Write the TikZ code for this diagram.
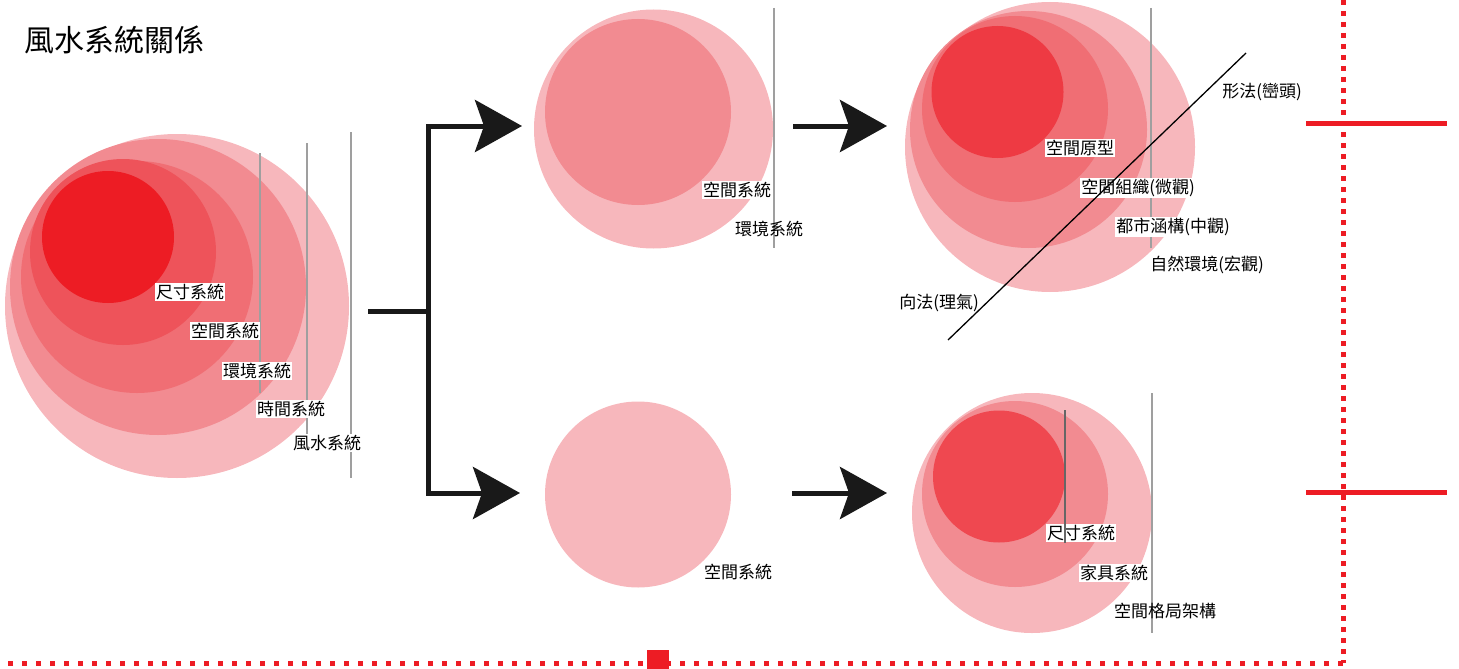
\documentclass[tikz,border=0pt]{standalone}
\usepackage{fontspec}
\usepackage{xcolor}
\usepackage{tikz}
\usetikzlibrary{arrows.meta}
\newfontfamily\cjk{Noto Sans CJK TC}

\definecolor{fsA}{HTML}{F7B7BC}
\definecolor{fsB}{HTML}{F28B91}
\definecolor{fsC}{HTML}{F06E74}
\definecolor{fsD}{HTML}{EE535A}
\definecolor{coreL}{HTML}{ED1C24}
\definecolor{coreT}{HTML}{EE3A43}
\definecolor{coreB}{HTML}{EF4850}
\definecolor{fsRed}{HTML}{ED1C24}

\tikzset{
  lbl/.style={font=\cjk\fontsize{17}{17}\selectfont, inner sep=1pt, text=black},
  tag/.style={lbl, fill=white},
  guide/.style={draw=gray!75, line width=1.6pt},
  flow/.style={draw=black!90, line width=5pt, -{Stealth[length=47pt,width=52pt,inset=9pt]}},
  dotv/.style={draw=fsRed, line width=5pt, dash pattern=on 5pt off 6pt},
  doth/.style={draw=fsRed, line width=5pt, dash pattern=on 5pt off 9pt},
}

\begin{document}
\begin{tikzpicture}[x=1pt,y=-1pt]
  \useasboundingbox (0,0) rectangle (1459,669);

  % 標題
  \node[lbl, font=\cjk\fontsize{30}{30}\selectfont, anchor=west] (title) at (23,40) {風水系統關係};

  % 左: 風水系統 (由外到內)
  \fill[fsA] (177,306) circle (172);
  \fill[fsB] (158,287) circle (148);
  \fill[fsC] (137,277) circle (116);
  \fill[fsD] (123,252) circle (93);
  \fill[coreL] (108,237) circle (66);
  \draw[guide] (260,153) -- (260,393);
  \draw[guide] (307,143) -- (307,434);
  \draw[guide] (351,132) -- (351,478);
  \node[tag] (chicun) at (190,292) {尺寸系統};
  \node[tag] (kongjian) at (225,331) {空間系統};
  \node[tag] (huanjing) at (257,371) {環境系統};
  \node[tag] (shijian) at (291,409) {時間系統};
  \node[tag] (fengshui) at (327,443) {風水系統};

  % 分支箭頭
  \coordinate (src) at (368,311);
  \coordinate (fork) at (428,311);
  \coordinate (upTip) at (522,126);
  \coordinate (downTip) at (520,493);
  \draw[draw=black!90, line width=5pt] (src) -- (fork);
  \draw[flow] (fork) |- (upTip);
  \draw[flow] (fork) |- (downTip);

  % 中上: 空間 / 環境
  \fill[fsA] (653.5,129) circle (119.5);
  \fill[fsB] (638,112) circle (93);
  \draw[guide] (774,8) -- (774,248);
  \node[tag] (midKong) at (737,190) {空間系統};
  \node[lbl] (midHuan) at (769,229) {環境系統};

  % 中下: 空間
  \fill[fsA] (638,494.5) circle (93);
  \node[lbl] (lowKong) at (738,572) {空間系統};

  % 中間箭頭
  \coordinate (upFrom) at (793,126);
  \coordinate (upTo) at (887,126);
  \coordinate (downFrom) at (792,493);
  \coordinate (downTo) at (887,493);
  \draw[flow] (upFrom) -- (upTo);
  \draw[flow] (downFrom) -- (downTo);

  % 右上: 形法 / 向法
  \fill[fsA] (1050,147) circle (145);
  \fill[fsB] (1028.5,129.5) circle (118.5);
  \fill[fsC] (1015,109) circle (93);
  \fill[coreT] (997.5,92) circle (66);
  \draw[guide] (1151,8) -- (1151,248);
  \node[lbl] (xingfa) at (1262,92) {形法(巒頭)};
  \node[tag] (yuanxing) at (1080,148) {空間原型};
  \node[tag] (zuzhi) at (1138,188) {空間組織(微觀)};
  \node[tag] (hangou) at (1173,227) {都市涵構(中觀)};
  \node[lbl] (ziran) at (1207,265) {自然環境(宏觀)};
  \node[lbl] (xiangfa) at (939,303) {向法(理氣)};
  \coordinate (diagLow) at (948,340);
  \coordinate (diagHigh) at (1246,53);
  \draw[line width=1.3pt] (diagLow) -- (diagHigh);

  % 右下: 尺寸 / 家具 / 格局
  \fill[fsA] (1032,513) circle (120);
  \fill[fsB] (1015,494) circle (93);
  \fill[coreB] (999,476.5) circle (66);
  \draw[guide] (1152,393) -- (1152,633);
  \node[tag] (lowChicun) at (1081,533) {尺寸系統};
  \node[tag] (jiaju) at (1114,573) {家具系統};
  \node[lbl] (geju) at (1165,611) {空間格局架構};
  \draw[draw=gray!80!black, line width=1.3pt] (1065,410) -- (1065,543);

  % 紅色虛線框
  \coordinate (frameTop) at (1343,0);
  \coordinate (frameCorner) at (1343,663);
  \coordinate (frameLeft) at (0,663);
  \draw[dotv] (frameTop) -- (frameCorner);
  \draw[doth] (frameCorner) -- (frameLeft);
  \fill[fsRed] (647,650) rectangle (669,669);
  \draw[fsRed, line width=5pt] (1306,123) -- (1447,123);
  \draw[fsRed, line width=5pt] (1306,492) -- (1447,492);
\end{tikzpicture}
\end{document}
